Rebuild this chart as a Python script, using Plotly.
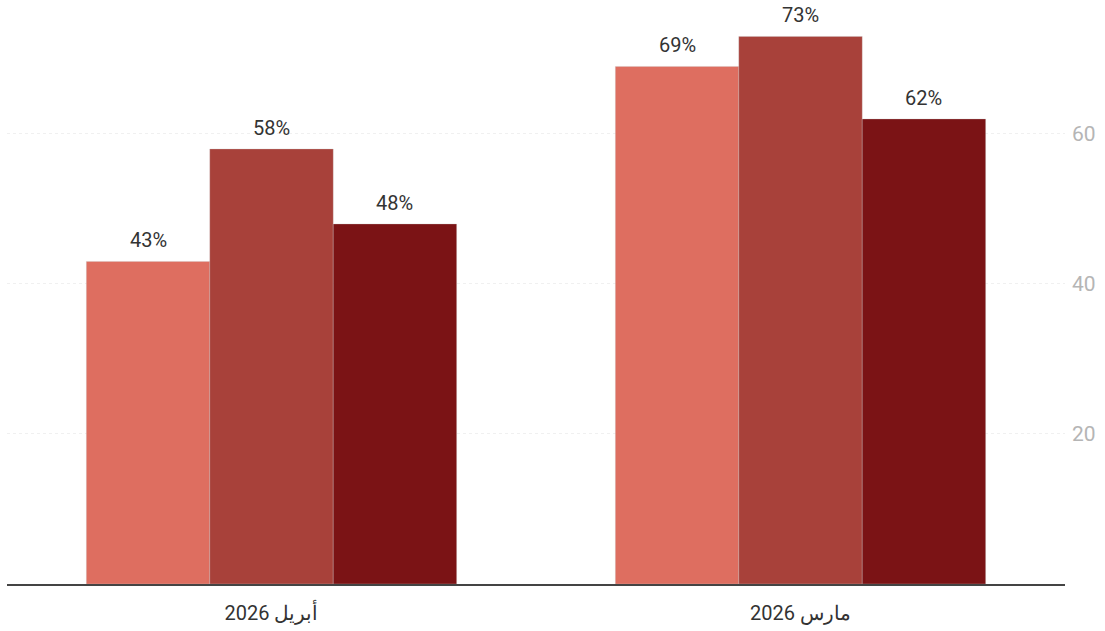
import plotly.graph_objects as go

categories = ["أبريل 2026", "مارس 2026"]
series_names = ["الفئة 1", "الفئة 2", "الفئة 3"]
series_values = [
    [43, 69],
    [58, 73],
    [48, 62],
]
colors = ["#DE6E60", "#A8413A", "#7B1315"]
y_ticks = [20, 40, 60]

W, H = 1105, 631
ML, MR, MT, MB = 7, 40, 10, 47
BARGAP = 0.30
plot_w = W - ML - MR
bar_px = plot_w / len(categories) * (1 - BARGAP) / len(series_values)

fig = go.Figure()
for i, (name, vals, col) in enumerate(zip(series_names, series_values, colors)):
    fig.add_trace(go.Bar(
        x=categories, y=vals, name=name,
        marker=dict(color=col, line=dict(color="rgba(200,200,200,0.6)", width=0.5)),
        hoverinfo="x+y",
    ))
    shift = (i - (len(series_values) - 1) / 2) * bar_px
    for c, v in zip(categories, vals):
        fig.add_annotation(
            x=c, y=v, text=f"{v}%", showarrow=False,
            xshift=shift, yshift=21, yanchor="middle",
            font=dict(family="Roboto", size=20, color="#333333"),
        )

fig.update_layout(
    width=W, height=H,
    margin=dict(l=ML, r=MR, t=MT, b=MB),
    barmode="group", bargap=BARGAP, bargroupgap=0,
    plot_bgcolor="white", paper_bgcolor="white",
    showlegend=False,
    font=dict(family="Roboto", size=20, color="#333333"),
    xaxis=dict(
        type="category", categoryorder="array", categoryarray=categories,
        showline=True, linecolor="#444444", linewidth=2,
        showgrid=False, ticks="", tickfont=dict(size=20, color="#333333"),
        ticklabelstandoff=10,
    ),
    yaxis=dict(
        side="right", range=[0, 76.53], tickvals=y_ticks,
        showgrid=True, gridcolor="#f0f0f0", griddash="dot", gridwidth=1,
        zeroline=False, showline=False,
        tickfont=dict(size=21, color="#b5b5b5"), ticklabelstandoff=6,
    ),
)

fig.write_html("out.html")
